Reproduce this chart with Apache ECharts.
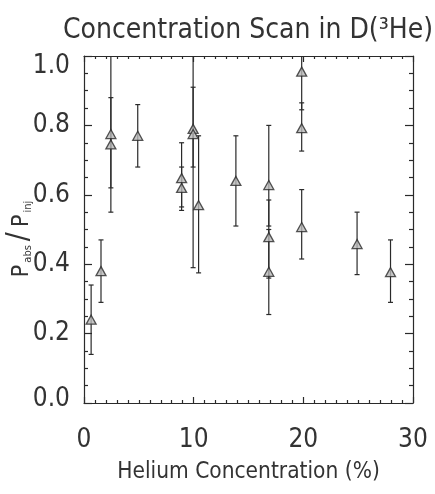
<!DOCTYPE html>
<html>
<head>
<meta charset="utf-8">
<script src="https://cdn.jsdelivr.net/npm/echarts@6/dist/echarts.min.js"></script>
<style>
html,body{margin:0;padding:0;background:#fff;}
#chart{width:435px;height:494px;}
</style>
</head>
<body>
<div id="chart"></div>
<script>
// Helium concentration (%) for each measurement
const heliumPct = [0.65, 1.55, 2.45, 2.45, 4.9, 8.9, 8.9, 9.95, 9.95, 10.45, 13.85, 16.85, 16.85, 16.85, 19.85, 19.85, 19.85, 24.9, 27.95];
// P_abs / P_inj
const ratio    = [0.24, 0.38, 0.775, 0.745, 0.77, 0.648, 0.62, 0.79, 0.775, 0.57, 0.64, 0.628, 0.478, 0.378, 0.955, 0.792, 0.507, 0.458, 0.377];
// error bar lower / upper ends
const errLow   = [0.14, 0.29, 0.55, 0.62, 0.68, 0.555, 0.565, 0.39, 0.68, 0.375, 0.51, 0.51, 0.36, 0.255, 0.845, 0.726, 0.415, 0.37, 0.29];
const errHigh  = [0.34, 0.47, 1.05, 0.88, 0.86, 0.75, 0.68, 1.1, 0.91, 0.77, 0.77, 0.80, 0.585, 0.50, 1.06, 0.865, 0.615, 0.55, 0.47];
const xTicks = [0, 10, 20, 30];
const yTicks = [0.0, 0.2, 0.4, 0.6, 0.8, 1.0];

const FONT = "'Liberation Sans Narrow', 'DejaVu Sans Condensed', 'Roboto', sans-serif";
const INK = '#2a2a2a';

const points = heliumPct.map((x, i) => [x, ratio[i]]);
const bars = heliumPct.map((x, i) => [x, errLow[i], errHigh[i]]);

const chart = echarts.init(document.getElementById('chart'), null, {renderer: 'canvas'});

function axisCommon(extra) {
  return Object.assign({
    axisLine: {show: true, onZero: false, lineStyle: {color: INK, width: 1.2}},
    splitLine: {show: false},
    nameMoveOverlap: false
  }, extra);
}

const yLabelStyle = {fontFamily: FONT, fontSize: 26, color: '#333'};

const option = {
  backgroundColor: '#ffffff',
  animation: false,
  title: {
    text: 'Concentration Scan in D(³He)',
    left: 243, top: 12, textAlign: 'center',
    textStyle: {fontFamily: FONT, fontSize: 28, fontWeight: 'normal', color: '#333'}
  },
  grid: {left: 84, right: 22, top: 56, bottom: 91, outerBoundsMode: 'none', containLabel: false},
  xAxis: [
    axisCommon({
      type: 'value', min: xTicks[0], max: xTicks[xTicks.length - 1], interval: 10,
      position: 'bottom',
      axisTick: {show: true, inside: true, length: 6, lineStyle: {color: INK, width: 1.2}},
      minorTick: {show: true, splitNumber: 10, length: 3, lineStyle: {color: INK, width: 1.2}},
      axisLabel: {show: true, margin: 24, fontFamily: FONT, fontSize: 26, color: '#333'},
      name: 'Helium Concentration (%)', nameLocation: 'middle', nameGap: 58,
      nameTextStyle: {fontFamily: FONT, fontSize: 22.5, color: '#333'}
    }),
    axisCommon({
      type: 'value', min: xTicks[0], max: xTicks[xTicks.length - 1], interval: 10,
      position: 'top',
      axisTick: {show: true, inside: true, length: 6, lineStyle: {color: INK, width: 1.2}},
      minorTick: {show: true, splitNumber: 10, length: 3, lineStyle: {color: INK, width: 1.2}},
      axisLabel: {show: false}
    })
  ],
  yAxis: [
    axisCommon({
      type: 'value', min: yTicks[0], max: yTicks[yTicks.length - 1], interval: 0.2,
      position: 'left',
      axisTick: {show: true, inside: true, length: 8, lineStyle: {color: INK, width: 1.2}},
      minorTick: {show: true, splitNumber: 4, length: 4, lineStyle: {color: INK, width: 1.2}},
      axisLabel: {show: true, margin: 14, fontFamily: FONT, fontSize: 26, color: '#333',
        formatter: v => v >= 1 ? '{t|' + v.toFixed(1) + '}' : (v <= 0 ? '{b|' + v.toFixed(1) + '}' : v.toFixed(1)),
        rich: {
          t: Object.assign({padding: [20, 0, 0, 0]}, yLabelStyle),
          b: Object.assign({padding: [0, 0, 8, 0]}, yLabelStyle)
        }
      },
      name: '{p|P}{s|abs}{q|/}{p|P}{s|inj}', nameLocation: 'middle', nameGap: 50, nameRotate: 90,
      nameTextStyle: {
        fontFamily: FONT, color: '#333',
        padding: [0, 20, 0, 0],
        rich: {
          p: {fontFamily: FONT, fontSize: 23, color: '#333', lineHeight: 26, verticalAlign: 'bottom', padding: [0, 2, 0, 2]},
          q: {fontFamily: FONT, fontSize: 30, color: '#333', lineHeight: 26, verticalAlign: 'bottom', padding: [0, 3, 0, 3]},
          s: {fontFamily: FONT, fontSize: 11, color: '#333', lineHeight: 26, verticalAlign: 'bottom', padding: [0, 1, 0, 0]}
        }
      }
    }),
    axisCommon({
      type: 'value', min: yTicks[0], max: yTicks[yTicks.length - 1], interval: 0.2,
      position: 'right',
      axisTick: {show: true, inside: true, length: 8, lineStyle: {color: INK, width: 1.2}},
      minorTick: {show: true, splitNumber: 4, length: 4, lineStyle: {color: INK, width: 1.2}},
      axisLabel: {show: false}
    })
  ],
  series: [
    {
      type: 'custom',
      xAxisIndex: 0, yAxisIndex: 0,
      clip: true,
      data: bars,
      renderItem: function (params, api) {
        const x = api.value(0);
        const lo = api.coord([x, api.value(1)]);
        const hi = api.coord([x, api.value(2)]);
        const cap = 2.5;
        const style = {stroke: INK, lineWidth: 1.2};
        return {
          type: 'group',
          children: [
            {type: 'line', shape: {x1: lo[0], y1: lo[1], x2: hi[0], y2: hi[1]}, style: style},
            {type: 'line', shape: {x1: lo[0] - cap, y1: lo[1], x2: lo[0] + cap, y2: lo[1]}, style: style},
            {type: 'line', shape: {x1: hi[0] - cap, y1: hi[1], x2: hi[0] + cap, y2: hi[1]}, style: style}
          ]
        };
      },
      z: 2
    },
    {
      type: 'scatter',
      xAxisIndex: 0, yAxisIndex: 0,
      data: points,
      symbol: 'triangle',
      symbolSize: [10, 9],
      itemStyle: {color: '#b8b8b8', borderColor: INK, borderWidth: 1.3},
      z: 3
    }
  ]
};
chart.setOption(option);
</script>
</body>
</html>
